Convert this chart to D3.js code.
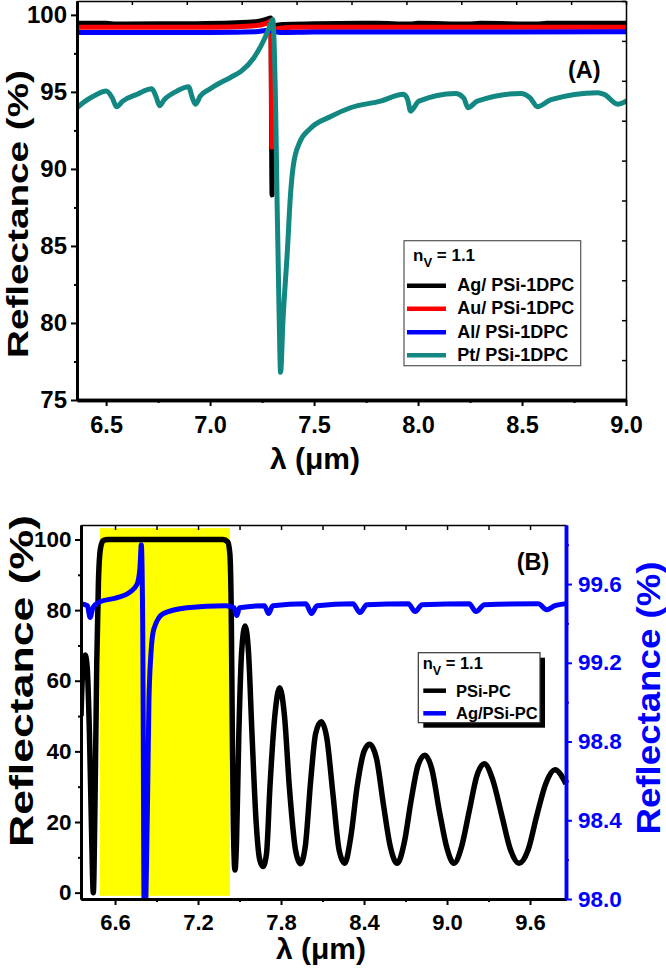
<!DOCTYPE html>
<html><head><meta charset="utf-8">
<script src="https://cdn.jsdelivr.net/npm/d3@7"></script>
<style>
body{margin:0;background:#fff}
svg text{font-family:"Liberation Sans",Arial,sans-serif;font-weight:bold}
</style>
</head><body>
<svg id="c" width="666" height="969"></svg>
<script>
// ---------------- Panel A data ----------------
const agX = [6.36, 6.50, 6.55, 6.75, 6.93, 7.10, 7.22, 7.27, 7.292, 7.298, 7.303, 7.310, 7.35, 7.50, 7.80, 7.96, 8.00, 8.24, 8.30, 8.57, 8.62, 9.00];
const agY = [99.45, 99.45, 99.41, 99.42, 99.43, 99.47, 99.55, 99.70, 99.80, 88.3, 99.25, 99.30, 99.38, 99.42, 99.45, 99.40, 99.45, 99.40, 99.45, 99.40, 99.45, 99.45];
const auX = [6.36, 7.00, 7.20, 7.27, 7.292, 7.298, 7.303, 7.32, 7.40, 9.00];
const auY = [99.20, 99.20, 99.28, 99.45, 99.60, 91.4, 99.00, 99.10, 99.20, 99.20];
const alX = [6.36, 7.00, 7.22, 7.28, 7.30, 7.34, 7.50, 9.00];
const alY = [98.85, 98.86, 98.90, 99.00, 98.95, 98.85, 98.88, 98.90];
const ptX = [6.36, 6.40, 6.45, 6.50, 6.53, 6.55, 6.58, 6.65, 6.72, 6.74, 6.757, 6.78, 6.84, 6.896, 6.915, 6.93, 6.953, 7.00, 7.05, 7.10, 7.15, 7.21, 7.26, 7.285, 7.301, 7.315, 7.322, 7.332, 7.339, 7.35, 7.373, 7.385, 7.40, 7.43, 7.48, 7.58, 7.675, 7.82, 7.93, 7.95, 7.964, 8.004, 8.18, 8.22, 8.24, 8.285, 8.494, 8.54, 8.574, 8.64, 8.865, 8.895, 8.96, 9.00];
const ptY = [93.97, 94.4, 94.8, 95.05, 94.6, 94.04, 94.4, 94.85, 95.2, 94.7, 94.1, 94.5, 95.05, 95.34, 94.6, 94.2, 94.73, 95.2, 95.6, 95.95, 96.35, 97.2, 98.4, 99.2, 99.7, 94.0, 88.0, 80.5, 76.8, 80.0, 85.0, 88.0, 90.2, 91.7, 92.6, 93.4, 93.97, 94.4, 94.84, 94.5, 93.75, 94.4, 94.9, 94.6, 93.97, 94.4, 94.9, 94.6, 94.04, 94.5, 94.95, 94.84, 94.2, 94.4];
const seriesA = ["Ag/ PSi-1DPC", "Au/ PSi-1DPC", "Al/ PSi-1DPC", "Pt/ PSi-1DPC"];
const xTicksA = [6.5, 7.0, 7.5, 8.0, 8.5, 9.0];
const xMinorA = [6.75, 7.25, 7.75, 8.25, 8.75];
const yTicksA = [75, 80, 85, 90, 95, 100];
const yMinorA = [77.5, 82.5, 87.5, 92.5, 97.5];

// ---------------- Panel B data ----------------
const psiX = [6.354, 6.365, 6.385, 6.40, 6.415, 6.43, 6.443, 6.455, 6.468, 6.48, 6.495, 6.515, 6.55, 7.30, 7.38, 7.415, 7.43, 7.44, 7.448, 7.456, 7.467, 7.478, 7.495, 7.515, 7.54, 7.565, 7.59, 7.62, 7.645, 7.67, 7.695, 7.72, 7.755, 7.79, 7.825, 7.86, 7.905, 7.94, 7.975, 8.015, 8.05, 8.09, 8.13, 8.175, 8.22, 8.26, 8.305, 8.35, 8.40, 8.44, 8.49, 8.54, 8.59, 8.64, 8.69, 8.74, 8.79, 8.84, 8.89, 8.945, 9.00, 9.05, 9.105, 9.16, 9.215, 9.27, 9.33, 9.395, 9.46, 9.52, 9.585, 9.65, 9.715, 9.78, 9.86];
const psiY = [50, 62, 67.3, 63, 45, 18, 0, 25, 65, 88, 97.5, 99.7, 100, 100, 100, 99.3, 96, 80, 45, 18, 6.4, 14, 45, 68, 75.5, 68, 45, 20, 9.5, 7.4, 11, 30, 50, 58, 50, 30, 12, 8.2, 13, 32, 45, 48.4, 44, 28, 12, 8.3, 16, 30, 40, 42, 38, 25, 13, 8.3, 14, 26, 36, 38.9, 35, 23, 12.5, 8.3, 13, 23, 33, 36.5, 32, 22, 12, 8.3, 12, 22, 31, 34.8, 30.8];
const agpX = [6.354, 6.40, 6.42, 6.44, 6.49, 6.61, 6.71, 6.76, 6.78, 6.79, 6.80, 6.812, 6.835, 6.845, 6.86, 6.88, 6.95, 7.12, 7.40, 7.46, 7.48, 7.50, 7.68, 7.71, 7.74, 7.98, 8.02, 8.06, 8.32, 8.37, 8.42, 8.72, 8.77, 8.82, 9.16, 9.21, 9.27, 9.66, 9.72, 9.78, 9.86];
const agpY = [99.50, 99.49, 99.43, 99.48, 99.51, 99.53, 99.56, 99.60, 99.68, 99.80, 99.40, 97.80, 98.50, 99.00, 99.25, 99.37, 99.45, 99.48, 99.49, 99.48, 99.44, 99.48, 99.49, 99.45, 99.49, 99.50, 99.45, 99.49, 99.50, 99.455, 99.495, 99.50, 99.46, 99.495, 99.50, 99.46, 99.495, 99.50, 99.47, 99.49, 99.50];
const bandB = [6.49, 7.43];
const seriesB = ["PSi-PC", "Ag/PSi-PC"];
const xTicksB = [6.6, 7.2, 7.8, 8.4, 9.0, 9.6];
const xMinorB = [6.9, 7.5, 8.1, 8.7, 9.3];
const xTopB = [6.6, 6.9, 7.2, 7.5, 7.8, 8.1, 8.4, 8.7, 9.0, 9.3, 9.6];
const yTicksB = [0, 20, 40, 60, 80, 100];
const yMinorB = [10, 30, 50, 70, 90];
const yRTicksB = [98.0, 98.4, 98.8, 99.2, 99.6];
const yRMinorB = [98.2, 98.6, 99.0, 99.4, 99.8];

const svg = d3.select("#c");
const TEAL = "#138781", BLUE = "#0000ff";

function styleAxis(g, opts) {
  g.attr("font-family", '"Liberation Sans", Arial, sans-serif')
   .attr("font-weight", "bold")
   .attr("font-size", opts.fs || 22);
  g.select(".domain").attr("stroke", opts.color || "#000").attr("stroke-width", opts.dw || 3);
  g.selectAll(".tick line").attr("stroke", opts.color || "#000").attr("stroke-width", opts.tw || 2);
  g.selectAll(".tick text").attr("fill", opts.color || "#000");
  return g;
}

// ================= Panel A =================
const A = {l: 77, r: 626, t: 1, b: 400};
const xA = d3.scaleLinear().domain([6.36, 9.0]).range([A.l, A.r]);
const yA = d3.scaleLinear().domain([75, 100.9]).range([A.b, A.t]);
svg.append("clipPath").attr("id", "clipA").append("rect")
  .attr("x", A.l).attr("y", A.t).attr("width", A.r - A.l).attr("height", A.b - A.t);

const lineA = d3.line().x(d => xA(d[0])).y(d => yA(d[1])).curve(d3.curveMonotoneX);
const gA = svg.append("g").attr("clip-path", "url(#clipA)");
[[agX, agY, "#000"], [auX, auY, "#ff0000"], [alX, alY, BLUE], [ptX, ptY, TEAL]].forEach(s => {
  gA.append("path").datum(d3.zip(s[0], s[1])).attr("d", lineA)
    .attr("fill", "none").attr("stroke", s[2]).attr("stroke-width", 5)
    .attr("stroke-linejoin", "round").attr("stroke-linecap", "round");
});

// mirror frame ticks (top / right), 10 equal divisions
const topA = d3.scaleLinear().domain([0, 10]).range([A.l, A.r]);
const rightA = d3.scaleLinear().domain([0, 10]).range([A.b, A.t]);
styleAxis(svg.append("g").attr("transform", `translate(0,${A.t})`)
  .call(d3.axisBottom(topA).ticks(10).tickSize(4).tickSizeOuter(0).tickFormat("")), {dw: 1.5, tw: 1.5});
styleAxis(svg.append("g").attr("transform", `translate(${A.r},0)`)
  .call(d3.axisLeft(rightA).ticks(10).tickSize(4).tickSizeOuter(0).tickFormat("")), {dw: 1.5, tw: 1.5});

// main axes
styleAxis(svg.append("g").attr("transform", `translate(0,${A.b})`)
  .call(d3.axisBottom(xA).tickValues(xMinorA).tickSize(3).tickSizeOuter(0).tickFormat("")), {dw: 3.5});
styleAxis(svg.append("g").attr("transform", `translate(0,${A.b})`)
  .call(d3.axisBottom(xA).tickValues(xTicksA).tickSize(6).tickPadding(10).tickSizeOuter(0).tickFormat(d3.format(".1f"))), {dw: 3.5, fs: 23.5});
styleAxis(svg.append("g").attr("transform", `translate(${A.l},0)`)
  .call(d3.axisLeft(yA).tickValues(yMinorA).tickSize(3).tickSizeOuter(0).tickFormat("")), {dw: 3});
styleAxis(svg.append("g").attr("transform", `translate(${A.l},0)`)
  .call(d3.axisLeft(yA).tickValues(yTicksA).tickSize(6).tickPadding(4).tickSizeOuter(0)), {dw: 3, fs: 24});

svg.append("text").attr("transform", "translate(28,214) rotate(-90)")
  .attr("text-anchor", "middle").attr("font-size", 30)
  .attr("textLength", 288).attr("lengthAdjust", "spacingAndGlyphs").text("Reflectance (%)");
svg.append("text").attr("x", 315).attr("y", 469).attr("text-anchor", "middle")
  .attr("font-size", 30).text("λ (μm)");
svg.append("text").attr("x", 568).attr("y", 78).attr("font-size", 23.5).text("(A)");

// legend A
const legA = svg.append("g");
legA.append("rect").attr("x", 404).attr("y", 240.7).attr("width", 176.7).attr("height", 125)
  .attr("fill", "#fff").attr("stroke", "#555").attr("stroke-width", 1.2);
const tA = legA.append("text").attr("x", 413).attr("y", 260.7).attr("font-size", 17);
tA.append("tspan").text("n");
tA.append("tspan").attr("dy", 6).attr("font-size", 13).text("V");
tA.append("tspan").attr("dy", -6).text(" = 1.1");
const legAColors = ["#000", "#ff0000", BLUE, TEAL];
const legAY = [285.7, 308.7, 332.3, 355.3];
seriesA.forEach((name, i) => {
  legA.append("line").attr("x1", 407).attr("x2", 446).attr("y1", legAY[i]).attr("y2", legAY[i])
    .attr("stroke", legAColors[i]).attr("stroke-width", 4.5);
  legA.append("text").attr("x", 457.3).attr("y", legAY[i] + 5.3).attr("font-size", 18).text(name);
});

// ================= Panel B =================
const B = {l: 81, r: 566, t: 525, b: 899};
const xB = d3.scaleLinear().domain([6.354, 9.86]).range([B.l, B.r]);
const yB = d3.scaleLinear().domain([-1.8, 104.1]).range([B.b, B.t]);
const yR = d3.scaleLinear().domain([98.0, 99.9]).range([B.b, B.t]);
svg.append("clipPath").attr("id", "clipB").append("rect")
  .attr("x", B.l).attr("y", B.t).attr("width", B.r - B.l).attr("height", B.b - B.t);
const gB = svg.append("g").attr("clip-path", "url(#clipB)");

gB.append("rect").attr("x", xB(bandB[0])).attr("width", xB(bandB[1]) - xB(bandB[0]))
  .attr("y", yB(103.2)).attr("height", yB(-0.9) - yB(103.2)).attr("fill", "#ffff00");

const lineB = d3.line().x(d => xB(d[0])).y(d => yB(d[1])).curve(d3.curveMonotoneX);
const lineR = d3.line().x(d => xB(d[0])).y(d => yR(d[1])).curve(d3.curveMonotoneX);
gB.append("path").datum(d3.zip(psiX, psiY)).attr("d", lineB)
  .attr("fill", "none").attr("stroke", "#000").attr("stroke-width", 5.5).attr("stroke-linejoin", "round");
gB.append("path").datum(d3.zip(agpX, agpY)).attr("d", lineR)
  .attr("fill", "none").attr("stroke", BLUE).attr("stroke-width", 5).attr("stroke-linejoin", "round");

// top frame ticks
styleAxis(svg.append("g").attr("transform", `translate(0,${B.t})`)
  .call(d3.axisBottom(xB).tickValues(xTopB).tickSize(5).tickSizeOuter(0).tickFormat("")), {dw: 1.5, tw: 1.5});
// bottom axis
styleAxis(svg.append("g").attr("transform", `translate(0,${B.b})`)
  .call(d3.axisBottom(xB).tickValues(xMinorB).tickSize(3).tickSizeOuter(0).tickFormat("")), {dw: 3});
styleAxis(svg.append("g").attr("transform", `translate(0,${B.b})`)
  .call(d3.axisBottom(xB).tickValues(xTicksB).tickSize(6).tickPadding(9).tickSizeOuter(0).tickFormat(d3.format(".1f"))), {dw: 3, fs: 22});
// left axis
styleAxis(svg.append("g").attr("transform", `translate(${B.l},0)`)
  .call(d3.axisLeft(yB).tickValues(yMinorB).tickSize(3).tickSizeOuter(0).tickFormat("")), {dw: 3});
styleAxis(svg.append("g").attr("transform", `translate(${B.l},0)`)
  .call(d3.axisLeft(yB).tickValues(yTicksB).tickSize(6).tickPadding(3.5).tickSizeOuter(0)), {dw: 3, fs: 22.5});
// right axis (blue)
styleAxis(svg.append("g").attr("transform", `translate(${B.r},0)`)
  .call(d3.axisRight(yR).tickValues(yRMinorB).tickSize(3).tickSizeOuter(0).tickFormat("")), {dw: 3.5, color: BLUE});
styleAxis(svg.append("g").attr("transform", `translate(${B.r},0)`)
  .call(d3.axisRight(yR).tickValues(yRTicksB).tickSize(6).tickPadding(6).tickSizeOuter(0).tickFormat(d3.format(".1f"))), {dw: 3.5, fs: 22.5, color: BLUE});

svg.append("text").attr("transform", "translate(33,681) rotate(-90)")
  .attr("text-anchor", "middle").attr("font-size", 33)
  .attr("textLength", 332).attr("lengthAdjust", "spacingAndGlyphs").text("Reflectance (%)");
svg.append("text").attr("transform", "translate(660,698) rotate(-90)")
  .attr("text-anchor", "middle").attr("font-size", 34).attr("fill", BLUE)
  .attr("textLength", 273).attr("lengthAdjust", "spacingAndGlyphs").text("Reflectance (%)");
svg.append("text").attr("x", 321).attr("y", 959).attr("text-anchor", "middle")
  .attr("font-size", 30).text("λ (μm)");
svg.append("text").attr("x", 516.7).attr("y", 570).attr("font-size", 23.5).text("(B)");

// legend B
const legB = svg.append("g");
legB.append("rect").attr("x", 423.3).attr("y", 657.7).attr("width", 121.7).attr("height", 70).attr("fill", "#000");
legB.append("rect").attr("x", 418.3).attr("y", 652.7).attr("width", 121.7).attr("height", 70)
  .attr("fill", "#fff").attr("stroke", "#333").attr("stroke-width", 1.2);
const tB = legB.append("text").attr("x", 422.7).attr("y", 669.3).attr("font-size", 16.5);
tB.append("tspan").text("n");
tB.append("tspan").attr("dy", 6).attr("font-size", 12.5).text("V");
tB.append("tspan").attr("dy", -6).text(" = 1.1");
const legBColors = ["#000", BLUE];
const legBY = [690.7, 713.3];
seriesB.forEach((name, i) => {
  legB.append("line").attr("x1", 423.3).attr("x2", 446).attr("y1", legBY[i]).attr("y2", legBY[i])
    .attr("stroke", legBColors[i]).attr("stroke-width", 4.5);
  legB.append("text").attr("x", 456).attr("y", legBY[i] + 6).attr("font-size", 16.5).text(name);
});
</script>
</body></html>
